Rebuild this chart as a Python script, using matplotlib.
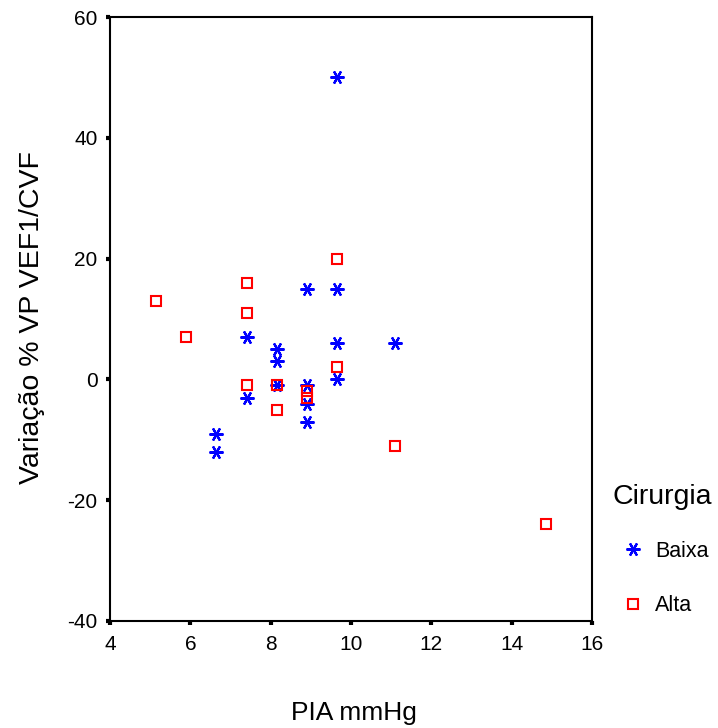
import matplotlib.pyplot as plt

plt.rcParams['font.family'] = ['Liberation Sans', 'DejaVu Sans']

# Cirurgia = Baixa
baixa_x = [9.65, 8.9, 9.65, 7.4, 8.15, 8.15, 9.65, 11.1, 9.65, 8.15, 8.9, 7.4, 8.9, 8.9, 6.65, 6.65]
baixa_y = [50, 15, 15, 7, 5, 3, 6, 6, 0, -1, -1, -3, -4, -7, -9, -12]

# Cirurgia = Alta
alta_x = [5.15, 5.9, 7.4, 7.4, 7.4, 8.15, 8.15, 8.9, 8.9, 9.65, 9.65, 11.1, 14.85]
alta_y = [13, 7, 16, 11, -1, -1, -5, -2, -3, 20, 2, -11, -24]

xticks = [4, 6, 8, 10, 12, 14, 16]
yticks = [-40, -20, 0, 20, 40, 60]

fig = plt.figure(figsize=(7.18, 7.28), dpi=100)
ax = fig.add_axes([0.1532, 0.147, 0.6713, 0.8296])

asterisk = (6, 2, 90)
ax.plot(baixa_x, baixa_y, linestyle='none', marker=asterisk, markersize=10,
        markeredgewidth=1.6, color='#0000ff', label='Baixa')
ax.plot(alta_x, alta_y, linestyle='none', marker='s', markersize=6.5,
        markeredgewidth=1.5, markerfacecolor='none', markeredgecolor='#ff0000',
        label='Alta')

ax.set_xlim(4, 16)
ax.set_ylim(-40, 60)
ax.set_xticks(xticks)
ax.set_yticks(yticks)
ax.set_xticklabels([str(v) for v in xticks])
ax.set_yticklabels([str(v) for v in yticks])
ax.tick_params(direction='out', length=3, width=3, labelsize=15)
ax.tick_params(axis='x', pad=7)
ax.tick_params(axis='y', pad=6)
for s in ax.spines.values():
    s.set_linewidth(1.5)

ax.set_xlabel('PIA mmHg', fontsize=19)
ax.set_ylabel('Variação % VP VEF1/CVF', fontsize=20.5)
ax.xaxis.set_label_coords(0.507, -0.132)
ax.yaxis.set_label_coords(-0.135, 0.503)

# legend title sits left of the marker column
fig.text(0.8524, 0.317, 'Cirurgia', fontsize=20.5, ha='left', va='center')
fig.legend(loc='upper left', bbox_to_anchor=(0.8677, 0.257), frameon=False,
           fontsize=15.5, handlelength=0.9, handletextpad=0.6, labelspacing=1.55,
           borderpad=0, borderaxespad=0)

fig.savefig('out.png', dpi=100)
